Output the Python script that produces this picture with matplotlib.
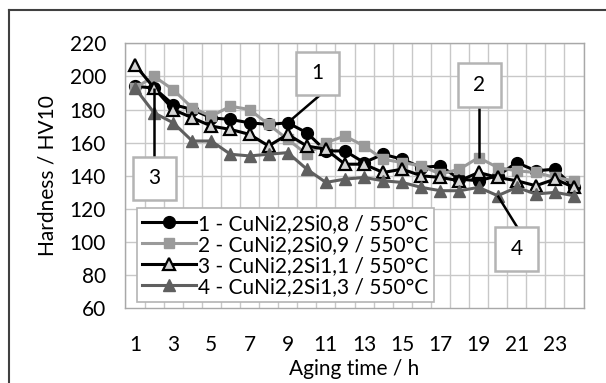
import matplotlib.pyplot as plt
from matplotlib.lines import Line2D
from matplotlib.patches import Rectangle

plt.rcParams['font.family'] = ['Lato', 'DejaVu Sans']

# aging time in hours
hours = list(range(1, 25))
tick_hours = list(range(1, 24, 2))

labels = ["1 - CuNi2,2Si0,8 / 550°C",
          "2 - CuNi2,2Si0,9 / 550°C",
          "3 - CuNi2,2Si1,1 / 550°C",
          "4 - CuNi2,2Si1,3 / 550°C"]

# hardness HV10
hv_si08 = [194, 193, 183, 180, 175, 174, 172, 171, 172, 166, 155, 155,
           148, 153, 150, 145, 146, 138, 137, 140, 148, 143, 144, 133]
hv_si09 = [193, 200, 192, 181, 176, 182, 180, 171, 162, 153, 160, 164,
           158, 150, 148, 146, 141, 144, 151, 145, 143, 142, 139, 137]
hv_si11 = [207, 193, 180, 175, 170, 168, 165, 158, 165, 158, 156, 147,
           147, 142, 144, 140, 139, 137, 142, 139, 137, 134, 138, 133]
hv_si13 = [193, 178, 172, 161, 161, 153, 152, 153, 154, 144, 136, 138,
           139, 137, 136, 133, 131, 131, 133, 128, 133, 129, 130, 128]

series = [hv_si08, hv_si09, hv_si11, hv_si13]
styles = [
    dict(color='black', marker='o', ms=8.5, mfc='black', mec='black'),
    dict(color='#9a9a9a', marker='s', ms=7.5, mfc='#9a9a9a', mec='#9a9a9a'),
    dict(color='black', marker='^', ms=8.5, mfc='#d4d4d4', mec='black', mew=1.6),
    dict(color='#5f5f5f', marker='^', ms=8.5, mfc='#5f5f5f', mec='#5f5f5f'),
]

fs = 15

fig = plt.figure(figsize=(6.06, 3.83), dpi=100)
ax = fig.add_axes([0.207, 0.195, 0.756, 0.692])

for vals, lab, st in zip(series, labels, styles):
    ax.plot(hours, vals, lw=2.2, label=lab, zorder=3, **st)

ax.set_xlim(0.5, 24.5)
ax.set_ylim(60, 220)
ax.set_yticks(range(60, 221, 20))
ax.set_xticks(tick_hours)
for h in range(0, 25):
    ax.axvline(h + 0.5, color='#c8c8c8', lw=1, zorder=0)
for v in range(80, 221, 20):
    ax.axhline(v, color='#c8c8c8', lw=1, zorder=0)

ax.tick_params(axis='both', which='both', length=0, labelsize=fs)
ax.tick_params(axis='x', pad=19)
ax.tick_params(axis='y', pad=14)
for sp in ax.spines.values():
    sp.set_color('#a8a8a8')
    sp.set_linewidth(1)

ax.set_xlabel("Aging time / h", fontsize=fs, labelpad=3)
ax.set_ylabel("Hardness / HV10", fontsize=fs, labelpad=9)

# callout boxes: label, box centre (x, y), series index, hour, line start
callouts = [("1", (10.55, 201.8), 0, 9, (10.7, 188.8)),
            ("2", (19.05, 194.8), 1, 19, (19.0, 181.5)),
            ("3", (2.0, 138.4), 2, 2, (2.0, 151.3)),
            ("4", (20.98, 95.8), 3, 20, (21.05, 108.5))]
bw, bh = 2.25, 26
for lab, (cx, cy), si, hr, (lx, ly) in callouts:
    ty = series[si][hours.index(hr)]
    ax.plot([lx, hr], [ly, ty], color='black', lw=1.8, zorder=4,
            solid_capstyle='butt')
    ax.add_patch(Rectangle((cx - bw / 2, cy - bh / 2), bw, bh,
                           facecolor='white', edgecolor='#b4b4b4', lw=1.8,
                           zorder=5))
    ax.text(cx, cy, lab, ha='center', va='center', fontsize=fs, zorder=6)

leg = ax.legend(loc='lower left', bbox_to_anchor=(0.226, 0.2115),
                bbox_transform=fig.transFigure, borderaxespad=0,
                fontsize=fs, handlelength=2.6, handletextpad=0.1,
                labelspacing=0.05, borderpad=0.25, fancybox=False,
                framealpha=1, edgecolor='#b4b4b4')
leg.get_frame().set_linewidth(1.2)
leg.set_zorder(10)

# outer frame of the original figure
fig.add_artist(Line2D([8.5 / 606, 8.5 / 606], [0, 1 - 9.5 / 383],
                      color='#404040', lw=1.5, transform=fig.transFigure))
fig.add_artist(Line2D([8.5 / 606, 1], [1 - 9.5 / 383, 1 - 9.5 / 383],
                      color='#404040', lw=1.5, transform=fig.transFigure))

fig.savefig("out.png", dpi=100)
